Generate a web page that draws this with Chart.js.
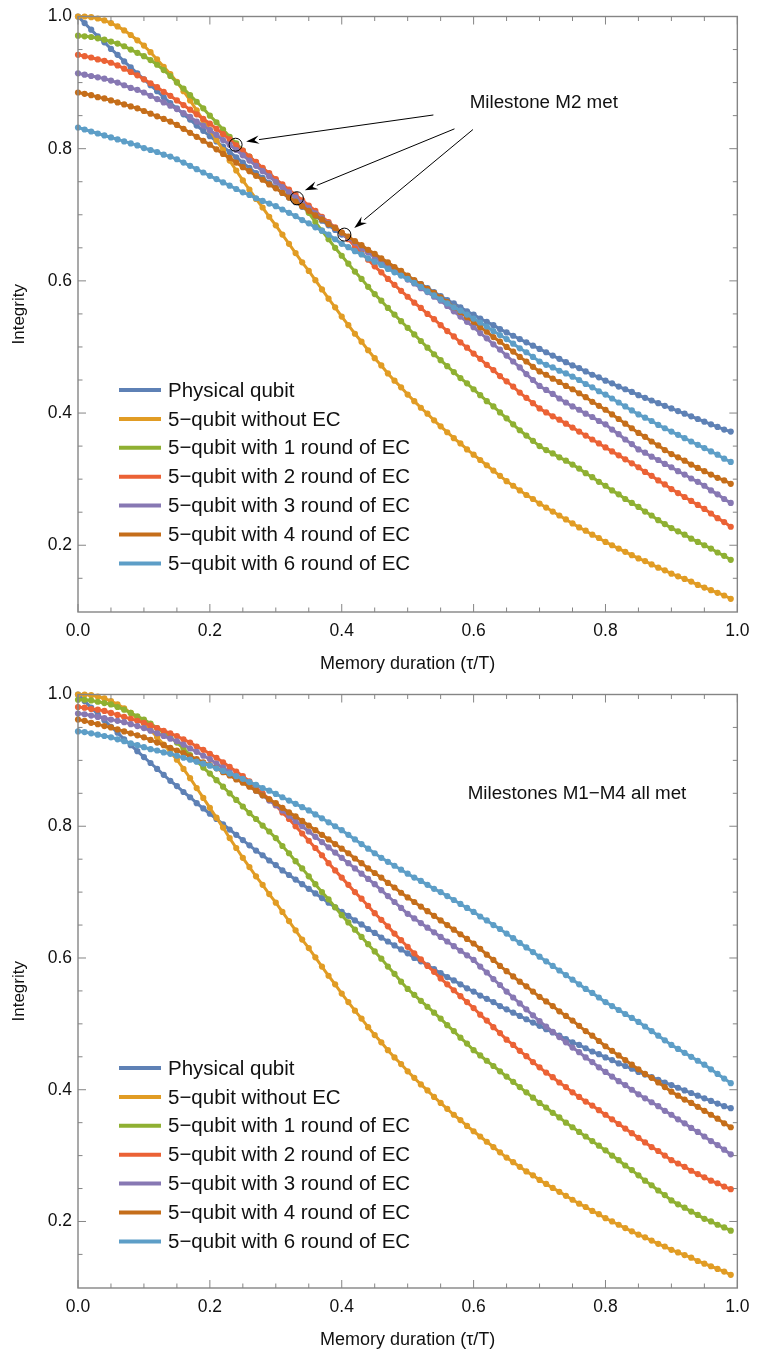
<!DOCTYPE html>
<html>
<head>
<meta charset="utf-8">
<script src="https://cdn.jsdelivr.net/npm/chart.js@4.4.1/dist/chart.umd.min.js"></script>
<style>
  html, body { margin: 0; padding: 0; background: #fff; }
  .panel { position: absolute; left: 0; width: 758px; height: 678px; }
  #top { top: 0; }
  #bottom { top: 678px; }
</style>
</head>
<body>
<div class="panel" id="top"><canvas id="chartM2" width="758" height="678"></canvas></div>
<div class="panel" id="bottom"><canvas id="chartAll" width="758" height="678"></canvas></div>
<script>
// memory duration tau/T, one sample every 0.01
const tau = [
  0.00, 0.01, 0.02, 0.03, 0.04, 0.05, 0.06, 0.07, 0.08, 0.09,
  0.10, 0.11, 0.12, 0.13, 0.14, 0.15, 0.16, 0.17, 0.18, 0.19,
  0.20, 0.21, 0.22, 0.23, 0.24, 0.25, 0.26, 0.27, 0.28, 0.29,
  0.30, 0.31, 0.32, 0.33, 0.34, 0.35, 0.36, 0.37, 0.38, 0.39,
  0.40, 0.41, 0.42, 0.43, 0.44, 0.45, 0.46, 0.47, 0.48, 0.49,
  0.50, 0.51, 0.52, 0.53, 0.54, 0.55, 0.56, 0.57, 0.58, 0.59,
  0.60, 0.61, 0.62, 0.63, 0.64, 0.65, 0.66, 0.67, 0.68, 0.69,
  0.70, 0.71, 0.72, 0.73, 0.74, 0.75, 0.76, 0.77, 0.78, 0.79,
  0.80, 0.81, 0.82, 0.83, 0.84, 0.85, 0.86, 0.87, 0.88, 0.89,
  0.90, 0.91, 0.92, 0.93, 0.94, 0.95, 0.96, 0.97, 0.98, 0.99
];

// shared by both panels
const physical = [
  1.000, .990, .980, .970, .961, .951, .942, .932, .923, .914,
  .905, .896, .887, .878, .869, .861, .852, .844, .835, .827,
  .819, .811, .803, .795, .787, .779, .771, .763, .756, .748,
  .741, .733, .726, .719, .712, .705, .698, .691, .684, .677,
  .670, .664, .657, .651, .644, .638, .631, .625, .619, .613,
  .607, .600, .595, .589, .583, .577, .571, .566, .560, .554,
  .549, .543, .538, .533, .527, .522, .517, .512, .507, .502,
  .497, .492, .487, .482, .477, .472, .468, .463, .458, .454,
  .449, .445, .440, .436, .432, .427, .423, .419, .415, .411,
  .407, .403, .399, .395, .391, .387, .383, .379, .375, .372
];
const noEC = [
  1.000, 1.000, .999, .997, .994, .990, .985, .979, .972, .964,
  .956, .946, .935, .924, .913, .901, .887, .873, .858, .843,
  .828, .813, .798, .782, .767, .752, .738, .724, .711, .697,
  .684, .670, .656, .642, .628, .615, .601, .587, .573, .560,
  .546, .533, .520, .508, .495, .483, .472, .460, .449, .439,
  .428, .418, .408, .399, .389, .380, .371, .362, .354, .345,
  .337, .329, .321, .313, .305, .297, .290, .283, .276, .270,
  .263, .257, .251, .245, .239, .233, .227, .222, .216, .211,
  .205, .200, .195, .190, .185, .180, .176, .171, .166, .162,
  .157, .153, .149, .145, .140, .136, .132, .128, .124, .119
];

// upper panel: milestone M2
const m2Round1 = [
  .971, .970, .969, .967, .965, .962, .959, .955, .950, .945,
  .940, .934, .927, .919, .910, .900, .891, .881, .871, .861,
  .850, .840, .829, .818, .808, .797, .788, .779, .770, .761,
  .752, .743, .734, .726, .715, .703, .689, .676, .663, .650,
  .638, .626, .614, .603, .591, .580, .570, .559, .549, .539,
  .529, .519, .509, .499, .489, .480, .471, .462, .453, .445,
  .436, .427, .418, .410, .401, .392, .383, .374, .366, .358,
  .350, .344, .339, .333, .328, .322, .316, .309, .303, .296,
  .290, .283, .277, .270, .264, .258, .251, .245, .238, .232,
  .226, .221, .216, .210, .205, .200, .195, .189, .184, .178
];
const m2Round2 = [
  .942, .940, .938, .935, .933, .930, .926, .921, .916, .911,
  .905, .899, .893, .886, .880, .873, .866, .859, .852, .845,
  .838, .830, .822, .814, .805, .797, .788, .780, .771, .763,
  .754, .746, .738, .730, .722, .714, .706, .697, .689, .681,
  .673, .663, .652, .642, .632, .622, .613, .603, .594, .585,
  .576, .567, .559, .550, .542, .533, .524, .516, .507, .499,
  .490, .482, .473, .465, .456, .448, .440, .431, .423, .415,
  .407, .401, .395, .390, .384, .378, .372, .366, .360, .354,
  .348, .342, .336, .330, .324, .318, .311, .305, .298, .292,
  .285, .279, .273, .267, .261, .255, .248, .241, .235, .228
];
const m2Round3 = [
  .914, .912, .910, .908, .906, .903, .900, .896, .892, .889,
  .885, .880, .875, .870, .865, .860, .854, .848, .841, .835,
  .828, .821, .813, .806, .798, .790, .782, .774, .766, .758,
  .750, .742, .734, .726, .718, .710, .702, .695, .687, .680,
  .672, .665, .658, .650, .643, .636, .629, .622, .616, .609,
  .602, .596, .589, .583, .576, .570, .562, .554, .546, .538,
  .530, .521, .513, .504, .496, .487, .478, .469, .459, .450,
  .441, .435, .429, .422, .416, .410, .405, .399, .394, .388,
  .383, .375, .368, .360, .353, .345, .340, .334, .329, .323,
  .318, .312, .307, .301, .296, .290, .283, .277, .270, .264
];
const m2Round4 = [
  .885, .883, .881, .878, .876, .873, .870, .867, .864, .861,
  .857, .853, .849, .845, .841, .836, .830, .824, .818, .812,
  .806, .799, .792, .786, .779, .772, .766, .759, .753, .746,
  .740, .733, .726, .720, .713, .706, .699, .693, .686, .680,
  .673, .667, .660, .654, .647, .641, .634, .628, .621, .615,
  .608, .601, .595, .588, .582, .575, .568, .560, .553, .545,
  .538, .530, .523, .515, .508, .500, .493, .485, .478, .470,
  .463, .458, .452, .447, .441, .436, .430, .424, .417, .411,
  .405, .398, .391, .384, .377, .370, .364, .357, .351, .344,
  .338, .333, .328, .322, .317, .312, .307, .302, .298, .293
];
const m2Round6 = [
  .832, .829, .826, .823, .820, .817, .814, .811, .808, .805,
  .801, .798, .795, .791, .788, .784, .779, .774, .769, .764,
  .759, .754, .749, .744, .739, .734, .730, .725, .721, .717,
  .713, .708, .703, .698, .692, .687, .681, .676, .670, .663,
  .656, .651, .645, .640, .634, .629, .624, .618, .613, .608,
  .603, .597, .591, .584, .578, .572, .566, .560, .555, .549,
  .543, .537, .531, .524, .518, .512, .505, .498, .492, .485,
  .478, .473, .469, .464, .460, .455, .450, .444, .439, .433,
  .428, .422, .416, .410, .404, .398, .393, .388, .382, .377,
  .372, .367, .362, .357, .352, .347, .342, .337, .331, .326
];

// lower panel: milestones M1-M4
const allRound1 = [
  .992, .992, .991, .989, .987, .985, .981, .977, .972, .967,
  .962, .956, .949, .942, .935, .927, .918, .908, .899, .889,
  .880, .870, .860, .850, .840, .830, .820, .811, .801, .792,
  .782, .770, .759, .747, .736, .724, .712, .700, .689, .677,
  .665, .654, .643, .632, .621, .610, .599, .587, .576, .564,
  .553, .544, .535, .526, .517, .508, .498, .489, .479, .470,
  .460, .452, .444, .436, .428, .420, .412, .404, .396, .388,
  .380, .373, .365, .358, .350, .343, .336, .329, .322, .315,
  .308, .300, .293, .285, .278, .270, .262, .255, .247, .240,
  .232, .226, .221, .215, .210, .204, .200, .195, .191, .186
];
const allRound2 = [
  .981, .980, .978, .977, .975, .972, .969, .966, .963, .960,
  .957, .953, .949, .945, .941, .937, .932, .927, .921, .916,
  .910, .904, .897, .890, .883, .876, .868, .859, .850, .841,
  .832, .821, .811, .800, .789, .778, .767, .756, .744, .733,
  .722, .711, .700, .690, .679, .668, .658, .648, .637, .627,
  .617, .607, .598, .588, .579, .569, .560, .551, .542, .533,
  .524, .514, .505, .495, .486, .476, .468, .459, .451, .442,
  .434, .426, .419, .411, .404, .396, .389, .382, .376, .369,
  .362, .355, .348, .341, .334, .327, .320, .313, .307, .300,
  .293, .288, .283, .277, .272, .267, .262, .258, .253, .249
];
const allRound3 = [
  .971, .970, .968, .966, .964, .962, .960, .958, .955, .952,
  .949, .945, .941, .937, .933, .929, .924, .918, .913, .907,
  .902, .895, .889, .882, .875, .868, .861, .854, .847, .839,
  .832, .824, .816, .808, .800, .792, .784, .776, .768, .760,
  .752, .744, .736, .728, .720, .712, .703, .694, .685, .676,
  .667, .660, .653, .646, .639, .632, .625, .618, .611, .604,
  .597, .587, .578, .568, .559, .549, .540, .531, .522, .513,
  .504, .496, .488, .480, .472, .464, .457, .449, .442, .434,
  .427, .420, .413, .407, .400, .393, .387, .381, .375, .368,
  .362, .355, .349, .342, .336, .329, .322, .316, .309, .302
];
const allRound4 = [
  .962, .960, .957, .955, .952, .950, .947, .944, .941, .938,
  .935, .931, .927, .923, .919, .915, .911, .906, .902, .897,
  .893, .888, .882, .877, .871, .866, .860, .854, .847, .841,
  .835, .828, .821, .815, .808, .801, .794, .787, .780, .773,
  .766, .759, .751, .744, .736, .729, .722, .714, .707, .699,
  .692, .685, .678, .671, .664, .657, .650, .643, .636, .629,
  .622, .614, .605, .597, .588, .580, .572, .564, .557, .549,
  .541, .534, .527, .519, .512, .505, .497, .489, .482, .474,
  .466, .459, .452, .445, .438, .431, .424, .418, .411, .404,
  .397, .391, .385, .380, .374, .368, .362, .356, .349, .343
];
const allRound6 = [
  .944, .943, .941, .939, .937, .935, .932, .929, .926, .923,
  .920, .917, .915, .912, .910, .907, .904, .901, .898, .895,
  .892, .888, .884, .880, .876, .872, .867, .863, .858, .854,
  .849, .844, .839, .834, .829, .824, .818, .812, .806, .800,
  .794, .787, .780, .773, .766, .759, .752, .746, .740, .734,
  .728, .722, .717, .711, .705, .700, .694, .688, .682, .676,
  .670, .663, .657, .650, .644, .637, .630, .623, .616, .609,
  .602, .595, .588, .581, .574, .567, .560, .553, .547, .540,
  .533, .527, .521, .515, .509, .503, .496, .489, .482, .475,
  .468, .462, .456, .450, .444, .438, .431, .424, .417, .410
];

const seriesLabels = [
  "Physical qubit",
  "5\u2212qubit without EC",
  "5\u2212qubit with 1 round of EC",
  "5\u2212qubit with 2 round of EC",
  "5\u2212qubit with 3 round of EC",
  "5\u2212qubit with 4 round of EC",
  "5\u2212qubit with 6 round of EC"
];
const xTickValues = [0, 0.2, 0.4, 0.6, 0.8, 1.0];
const yTickValues = [0.2, 0.4, 0.6, 0.8, 1.0];

// circled crossings and where the arrows start (tau, integrity)
const m2Circles = [[0.239, 0.806], [0.332, 0.725], [0.404, 0.670]];
const m2ArrowTails = [[0.539, 0.851], [0.571, 0.830], [0.599, 0.829]];
const m2ArrowHeads = [[0.255, 0.811], [0.344, 0.737], [0.419, 0.680]];

// Mathematica's default plot palette
const palette = ["#5E81B5", "#E19C24", "#8FB032", "#EB6235", "#8778B3", "#C56E1A", "#5D9EC7"];
const FONT = "'Liberation Sans', Arial, sans-serif";
const FRAME = "#858585";
const INK = "#111";

// frame with inward ticks on all four sides, as Mathematica draws it
const framePlugin = {
  id: "frame",
  afterDraw(chart) {
    const { ctx, chartArea: a, scales: { x, y } } = chart;
    ctx.save();
    ctx.strokeStyle = FRAME;
    ctx.lineWidth = 1.4;
    ctx.strokeRect(a.left, a.top, a.right - a.left, a.bottom - a.top);
    ctx.lineWidth = 1;
    ctx.beginPath();
    for (let i = 0; i <= 20; i++) {
      const v = i * 0.05;
      const len = i % 4 === 0 ? 8 : 4.5;
      const px = x.getPixelForValue(v);
      ctx.moveTo(px, a.bottom); ctx.lineTo(px, a.bottom - len);
      ctx.moveTo(px, a.top); ctx.lineTo(px, a.top + len);
    }
    for (let i = 3; i <= 20; i++) {
      const v = i * 0.05;
      const len = i % 4 === 0 ? 8 : 4.5;
      const py = y.getPixelForValue(v);
      ctx.moveTo(a.left, py); ctx.lineTo(a.left + len, py);
      ctx.moveTo(a.right, py); ctx.lineTo(a.right - len, py);
    }
    ctx.stroke();
    ctx.restore();
  }
};

// legend block placed inside the plot area
const insetLegend = {
  id: "insetLegend",
  afterDraw(chart, args, opts) {
    const { ctx, chartArea: a } = chart;
    ctx.save();
    ctx.font = "20.5px " + FONT;
    ctx.textBaseline = "middle";
    ctx.fillStyle = INK;
    chart.data.datasets.forEach((ds, i) => {
      const yy = a.top + opts.top + i * opts.gap;
      ctx.strokeStyle = ds.borderColor;
      ctx.lineWidth = 4;
      ctx.beginPath();
      ctx.moveTo(a.left + 41, yy);
      ctx.lineTo(a.left + 83, yy);
      ctx.stroke();
      ctx.fillText(ds.label, a.left + 90, yy + 1);
    });
    ctx.restore();
  }
};

// note text, circles and arrows
const notes = {
  id: "notes",
  afterDraw(chart, args, opts) {
    const { ctx, scales: { x, y } } = chart;
    ctx.save();
    ctx.font = "18.8px " + FONT;
    ctx.fillStyle = INK;
    ctx.textBaseline = "middle";
    ctx.fillText(opts.text, x.getPixelForValue(opts.at[0]), y.getPixelForValue(opts.at[1]));
    ctx.strokeStyle = "#000";
    ctx.fillStyle = "#000";
    ctx.lineWidth = 1;
    (opts.circles || []).forEach(([cx, cy]) => {
      ctx.beginPath();
      ctx.arc(x.getPixelForValue(cx), y.getPixelForValue(cy), 6.5, 0, Math.PI * 2);
      ctx.stroke();
    });
    (opts.tails || []).forEach(([tx, ty], i) => {
      const x0 = x.getPixelForValue(tx), y0 = y.getPixelForValue(ty);
      const x1 = x.getPixelForValue(opts.heads[i][0]), y1 = y.getPixelForValue(opts.heads[i][1]);
      const ang = Math.atan2(y1 - y0, x1 - x0);
      const hl = 13, hw = 4.2;
      const bx = x1 - hl * Math.cos(ang), by = y1 - hl * Math.sin(ang);
      ctx.beginPath();
      ctx.moveTo(x0, y0);
      ctx.lineTo(bx, by);
      ctx.stroke();
      ctx.beginPath();
      ctx.moveTo(x1, y1);
      ctx.lineTo(bx + hw * Math.sin(ang), by - hw * Math.cos(ang));
      ctx.lineTo(bx + 0.35 * hl * Math.cos(ang), by + 0.35 * hl * Math.sin(ang));
      ctx.lineTo(bx - hw * Math.sin(ang), by + hw * Math.cos(ang));
      ctx.closePath();
      ctx.fill();
    });
    ctx.restore();
  }
};

function buildChart(canvasId, series, layout, noteOpts) {
  return new Chart(document.getElementById(canvasId), {
    type: "line",
    data: {
      datasets: series.map((vals, i) => ({
        label: seriesLabels[i],
        data: tau.map((t, k) => ({ x: t, y: vals[k] })),
        borderColor: palette[i],
        backgroundColor: palette[i],
        borderWidth: 3,
        pointRadius: 3.1,
        pointBorderWidth: 0,
        pointHoverRadius: 0,
        tension: 0,
        fill: false,
        clip: 4,
        order: series.length - i
      }))
    },
    options: {
      responsive: false,
      animation: false,
      events: [],
      layout: { padding: { top: layout.top, right: 14, left: 0, bottom: 0 } },
      plugins: {
        legend: { display: false },
        tooltip: { enabled: false },
        insetLegend: { top: 373.5, gap: 28.9 },
        notes: noteOpts
      },
      scales: {
        x: {
          type: "linear",
          min: 0,
          max: 1,
          afterBuildTicks: (s) => { s.ticks = xTickValues.map((v) => ({ value: v })); },
          afterFit: (s) => { s.height = layout.xHeight; },
          ticks: {
            callback: (v) => v.toFixed(1),
            font: { family: FONT, size: 17.5 },
            color: INK,
            padding: 8.5,
            maxRotation: 0,
            autoSkip: false
          },
          grid: { display: false, drawTicks: false },
          border: { display: false },
          title: {
            display: true,
            text: "Memory duration (\u03c4/T)",
            font: { family: FONT, size: 18 },
            color: INK,
            padding: { top: 0, bottom: layout.xTitlePad }
          }
        },
        y: {
          type: "linear",
          min: 0.099,
          max: 1.0,
          afterBuildTicks: (s) => { s.ticks = yTickValues.map((v) => ({ value: v })); },
          afterFit: (s) => { s.width = 78; },
          ticks: {
            callback: (v) => v.toFixed(1),
            font: { family: FONT, size: 17.5 },
            color: INK,
            padding: 6,
            autoSkip: false
          },
          grid: { display: false, drawTicks: false },
          border: { display: false },
          title: {
            display: true,
            text: "Integrity",
            font: { family: FONT, size: 17 },
            color: INK,
            padding: { top: 9, bottom: 0 }
          }
        }
      }
    },
    plugins: [framePlugin, insetLegend, notes]
  });
}

buildChart("chartM2",
  [physical, noEC, m2Round1, m2Round2, m2Round3, m2Round4, m2Round6],
  { top: 13, xHeight: 66, xTitlePad: 3 },
  { text: "Milestone M2 met", at: [0.594, 0.869], circles: m2Circles, tails: m2ArrowTails, heads: m2ArrowHeads });

buildChart("chartAll",
  [physical, noEC, allRound1, allRound2, allRound3, allRound4, allRound6],
  { top: 12, xHeight: 68, xTitlePad: 5 },
  { text: "Milestones M1\u2212M4 all met", at: [0.591, 0.849] });
</script>
</body>
</html>
